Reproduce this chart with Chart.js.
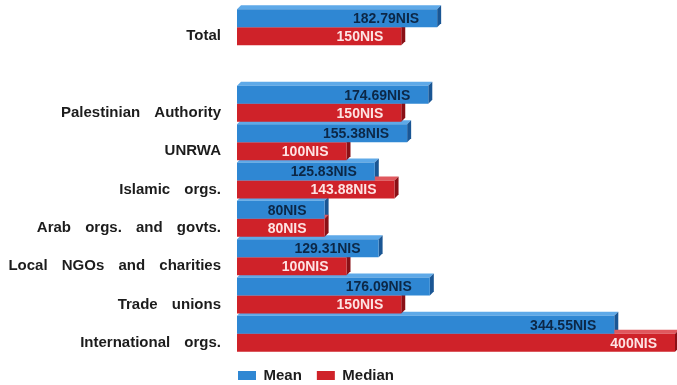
<!DOCTYPE html>
<html lang="en">
<head>
  <meta charset="UTF-8" />
  <title>Mean and median by source</title>
  <style>
    html, body { margin: 0; padding: 0; background: #fff; }
    #wrap { width: 677px; height: 385px; }
  </style>
</head>
<body>
  <div id="wrap"><canvas id="aidChart" width="677" height="385"></canvas></div>

  <script src="https://cdn.jsdelivr.net/npm/chart.js"></script>
  <script>
    const categories = ['Total', '', 'Palestinian Authority', 'UNRWA', 'Islamic orgs.', 'Arab orgs. and govts.', 'Local NGOs and charities', 'Trade unions', 'International orgs.'];
    const meanValues = [182.79, null, 174.69, 155.38, 125.83, 80, 129.31, 176.09, 344.55];
    const medianValues = [150, null, 150, 100, 143.88, 80, 100, 150, 400];
    const unit = 'NIS';

    // front / top / side colours for the fake 3d look
    const shades = [
      { front: '#2f87d3', top: '#5ea9e8', side: '#1a5694', text: '#0c2746' },
      { front: '#cf2229', top: '#e0585e', side: '#8a1016', text: '#fde3e3' }
    ];
    const depth = 4;

    const bar3d = {
      id: 'bar3d',
      beforeDraw(chart) {
        chart.ctx.wordSpacing = '10px';
      },
      beforeDatasetsDraw(chart) {
        const ctx = chart.ctx;
        ctx.save();
        chart.data.datasets.forEach((ds, i) => {
          const s = shades[i];
          chart.getDatasetMeta(i).data.forEach((bar, j) => {
            if (ds.data[j] == null) return;
            const p = bar.getProps(['x', 'y', 'base', 'height'], true);
            const top = p.y - p.height / 2, bottom = p.y + p.height / 2;
            ctx.fillStyle = s.top;
            ctx.beginPath();
            ctx.moveTo(p.base, top);
            ctx.lineTo(p.base + depth, top - depth);
            ctx.lineTo(p.x + depth, top - depth);
            ctx.lineTo(p.x, top);
            ctx.closePath();
            ctx.fill();
            ctx.fillStyle = s.side;
            ctx.beginPath();
            ctx.moveTo(p.x, top);
            ctx.lineTo(p.x + depth, top - depth);
            ctx.lineTo(p.x + depth, bottom - depth);
            ctx.lineTo(p.x, bottom);
            ctx.closePath();
            ctx.fill();
          });
        });
        ctx.restore();
      },
      afterDatasetsDraw(chart) {
        const ctx = chart.ctx;
        ctx.save();
        ctx.font = 'bold 14px "Liberation Sans", Arial, sans-serif';
        ctx.textAlign = 'right';
        ctx.textBaseline = 'middle';
        chart.data.datasets.forEach((ds, i) => {
          ctx.fillStyle = shades[i].text;
          chart.getDatasetMeta(i).data.forEach((bar, j) => {
            const v = ds.data[j];
            if (v == null) return;
            const p = bar.getProps(['x', 'y'], true);
            ctx.fillText(v + unit, p.x - 18, p.y + 1);
          });
        });
        ctx.restore();
      },
      afterLayout(chart) {
        // line the legend up with the left end of the bars
        const lg = chart.legend;
        const pad = chart.options.plugins.legend.labels.padding;
        lg.left = chart.chartArea.left + 1 - pad;
      }
    };

    const ctx = document.getElementById('aidChart').getContext('2d');
    new Chart(ctx, {
      type: 'bar',
      data: {
        labels: categories,
        datasets: [
          { label: 'Mean', data: meanValues, backgroundColor: shades[0].front, borderWidth: 0 },
          { label: 'Median', data: medianValues, backgroundColor: shades[1].front, borderWidth: 0 }
        ]
      },
      options: {
        indexAxis: 'y',
        responsive: false,
        animation: false,
        categoryPercentage: 0.94,
        barPercentage: 1,
        layout: { padding: { top: 8, right: 2, left: 0, bottom: 0 } },
        scales: {
          x: { display: false, min: 0, max: 400 },
          y: {
            grid: { display: false },
            border: { display: false },
            afterFit(scale) {
              scale.width = 237;
              scale.paddingTop = 0;
              scale.paddingBottom = 0;
            },
            ticks: {
              padding: 8,
              labelOffset: 9,
              color: '#1c1c1c',
              font: { family: '"Liberation Sans", Arial, sans-serif', weight: 'bold', size: 15 }
            }
          }
        },
        plugins: {
          legend: {
            position: 'bottom',
            align: 'start',
            maxHeight: 32,
            labels: {
              boxWidth: 18,
              boxHeight: 9,
              padding: 15,
              color: '#1c1c1c',
              font: { family: '"Liberation Sans", Arial, sans-serif', weight: 'bold', size: 15 }
            }
          },
          tooltip: { enabled: false }
        }
      },
      plugins: [bar3d]
    });
  </script>
</body>
</html>
